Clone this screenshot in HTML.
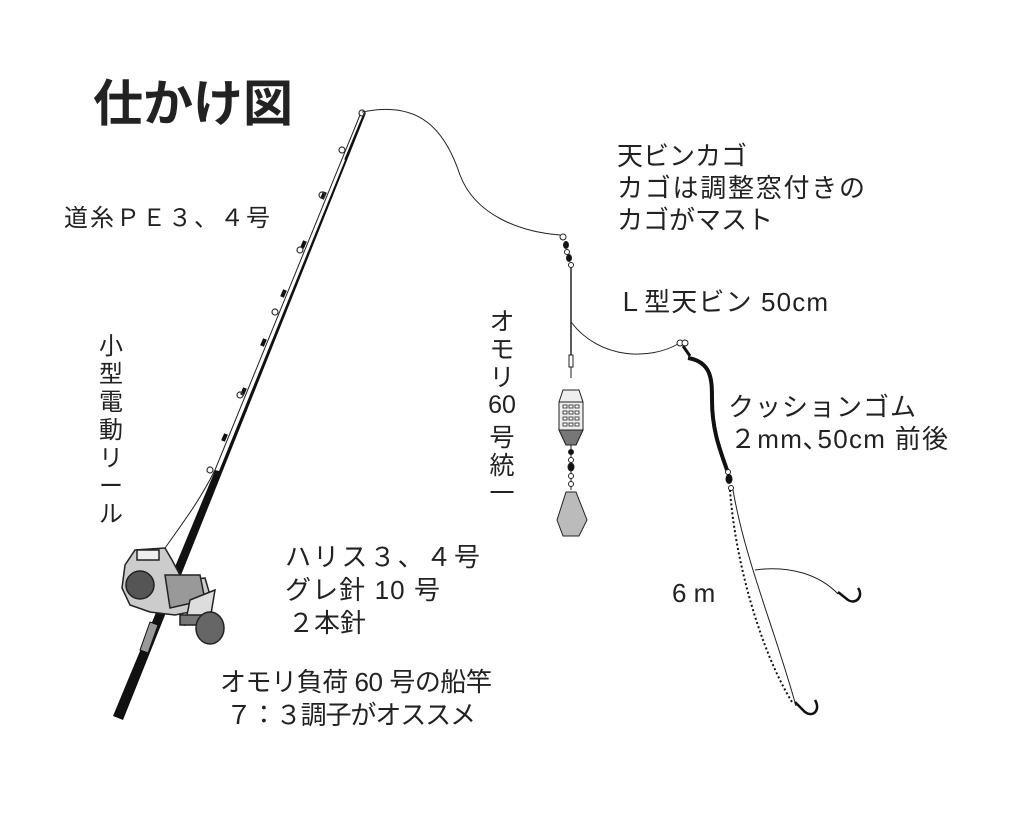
<!DOCTYPE html>
<html><head><meta charset="utf-8"><style>
html,body{margin:0;padding:0;background:#fff}
svg{display:block}
text{font-family:"Liberation Sans","Noto Sans CJK JP",sans-serif;fill:#222}
</style></head><body>
<svg width="1024" height="818" viewBox="0 0 1024 818" xmlns="http://www.w3.org/2000/svg">
<text x="93" y="121" font-size="50" font-weight="bold" style="font-family:'Noto Sans CJK JP',sans-serif" fill="#000">仕かけ図</text>

<!-- rod -->
<polygon points="113,716 123,720 366,113 364,112" fill="#111"/>
<polygon points="215,470 219,471 345,160 344,159" fill="#fff"/>
<g stroke="#111" stroke-width="4">
<line x1="223" y1="441" x2="226" y2="434"/><line x1="242" y1="395" x2="245" y2="388"/>
<line x1="262" y1="346" x2="265" y2="339"/><line x1="282" y1="297" x2="285" y2="290"/>
<line x1="302" y1="248" x2="305" y2="241"/><line x1="322" y1="199" x2="325" y2="192"/>
</g>
<polygon points="140,650 148,653 158,625 150,622" fill="#999" stroke="#111"/>
<g fill="none" stroke="#333" stroke-width="1.2">
<circle cx="210" cy="470" r="3"/><circle cx="240" cy="395" r="3"/><circle cx="275" cy="312" r="3"/>
<circle cx="300" cy="250" r="3"/><circle cx="322" cy="195" r="3"/><circle cx="342" cy="150" r="3"/><circle cx="362" cy="113" r="3"/>
</g>
<path d="M160,555 C185,520 200,500 215,470 L360,115" fill="none" stroke="#222" stroke-width="1"/>
<!-- reel -->
<g stroke="#222" stroke-width="1.5">
<path d="M125,565 L135,550 L165,548 L172,560 L180,575 L190,580 L205,578 L210,595 L200,610 L175,615 L150,612 L130,605 L122,588 Z" fill="#ccc"/>
<rect x="137" y="550" width="22" height="10" fill="#eee"/>
<ellipse cx="140" cy="585" rx="14" ry="14" fill="#555"/>
<path d="M165,575 L200,575 L205,600 L170,608 Z" fill="#999"/>
<path d="M190,600 L215,590 L210,620 L185,625 Z" fill="#ddd"/>
<rect x="180" y="615" width="22" height="10" fill="#777"/>
<ellipse cx="210" cy="628" rx="14" ry="16" fill="#666"/>
</g>

<path d="M362,112 C420,100 445,130 460,175 C475,215 520,232 560,235" fill="none" stroke="#222" stroke-width="1"/>
<g stroke="#222" stroke-width="1">
<circle cx="563" cy="237" r="3" fill="#fff"/>
<ellipse cx="566" cy="245" rx="2.5" ry="3.5" fill="#111"/>
<circle cx="567" cy="252" r="2.5" fill="#fff"/>
<ellipse cx="569" cy="258" rx="2.5" ry="3.5" fill="#111"/>
<circle cx="571" cy="265" r="2.5" fill="#fff"/>
<line x1="571" y1="268" x2="571" y2="355" stroke-width="1.5"/>
<rect x="569" y="355" width="4" height="12" fill="#fff"/>
<path d="M571,367 L571,378" fill="none"/>
<path d="M563,390 L579,390 L583,402 L583,430 L576,445 L566,445 L559,430 L559,402 Z" fill="#eee"/>
<path d="M559,430 L583,430 L576,445 L566,445 Z" fill="#777"/>
<line x1="559" y1="402" x2="583" y2="402"/>
<g fill="#fff" stroke-width="0.8">
<rect x="563" y="405" width="4" height="3"/><rect x="569" y="405" width="4" height="3"/><rect x="575" y="405" width="4" height="3"/>
<rect x="563" y="411" width="4" height="3"/><rect x="569" y="411" width="4" height="3"/><rect x="575" y="411" width="4" height="3"/>
<rect x="563" y="417" width="4" height="3"/><rect x="569" y="417" width="4" height="3"/><rect x="575" y="417" width="4" height="3"/>
<rect x="563" y="423" width="4" height="3"/><rect x="569" y="423" width="4" height="3"/><rect x="575" y="423" width="4" height="3"/>
</g>
<line x1="571" y1="445" x2="571" y2="490"/>
<circle cx="571" cy="452" r="2.5" fill="#111"/><circle cx="571" cy="460" r="2.5" fill="#fff"/>
<ellipse cx="571" cy="467" rx="3" ry="4" fill="#111"/><circle cx="571" cy="476" r="2.5" fill="#fff"/><circle cx="571" cy="484" r="2.5" fill="#fff"/>
<path d="M566,492 L576,492 L587,520 L579,536 L563,536 L557,520 Z" fill="#bbb"/>
</g>
<path d="M571,322 C600,360 650,360 678,344" fill="none" stroke="#222" stroke-width="1"/>
<circle cx="680" cy="343" r="3" fill="#fff" stroke="#222"/><circle cx="685" cy="343" r="3" fill="#fff" stroke="#222"/>
<path d="M683,346 L690,356" stroke="#111" stroke-width="3"/>
<path d="M688,358 C712,362 712,380 712,400 C712,430 720,450 727,470" fill="none" stroke="#111" stroke-width="4"/>
<circle cx="728" cy="472" r="2.5" fill="#fff" stroke="#222"/>
<ellipse cx="729" cy="479" rx="3.5" ry="5" fill="#111"/>
<circle cx="731" cy="488" r="2.5" fill="#fff" stroke="#222"/>
<path d="M730,490 C735,560 760,650 792,702" fill="none" stroke="#111" stroke-width="2" stroke-dasharray="2,2.5"/>
<path d="M733,490 C745,560 775,630 796,706" fill="none" stroke="#222" stroke-width="1"/>
<path d="M755,570 C790,565 820,575 838,594" fill="none" stroke="#222" stroke-width="1"/>
<path d="M838,592 L848,600 C856,605 864,596 858,588" fill="none" stroke="#111" stroke-width="2.5"/>
<path d="M795,702 L805,712 C813,718 821,710 815,700" fill="none" stroke="#111" stroke-width="2.5"/>

<g font-size="26">
<text x="64" y="226" font-size="24" textLength="206">道糸ＰＥ３、４号</text>
<text x="617" y="165">天ビンカゴ</text>
<text x="617" y="197" textLength="248">カゴは調整窓付きの</text>
<text x="617" y="229">カゴがマスト</text>
<text x="617" y="311" textLength="211">Ｌ型天ビン 50cm</text>
<text x="728" y="416" textLength="188">クッションゴム</text>
<text x="730" y="448" textLength="218">２mm､50cm 前後</text>
<text x="672" y="602">6 m</text>
<text x="285" y="566" textLength="195">ハリス３、４号</text>
<text x="285" y="599" textLength="155">グレ針 10 号</text>
<text x="288" y="632">２本針</text>
<text x="220" y="691" textLength="272">オモリ負荷 60 号の船竿</text>
<text x="226" y="724" textLength="250">７：３調子がオススメ</text>
</g>
<g font-size="24" text-anchor="middle">
<text x="111" y="354">小</text><text x="111" y="382">型</text><text x="111" y="410">電</text><text x="111" y="438">動</text>
<text x="111" y="466">リ</text><text x="111" y="494">ー</text><text x="111" y="522">ル</text>
</g>
<g font-size="25" text-anchor="middle">
<text x="502" y="330">オ</text><text x="502" y="358">モ</text><text x="502" y="386">リ</text>
<text x="502" y="413">60</text><text x="502" y="446">号</text><text x="502" y="474">統</text><text x="502" y="502">一</text>
</g>
</svg>
</body></html>
